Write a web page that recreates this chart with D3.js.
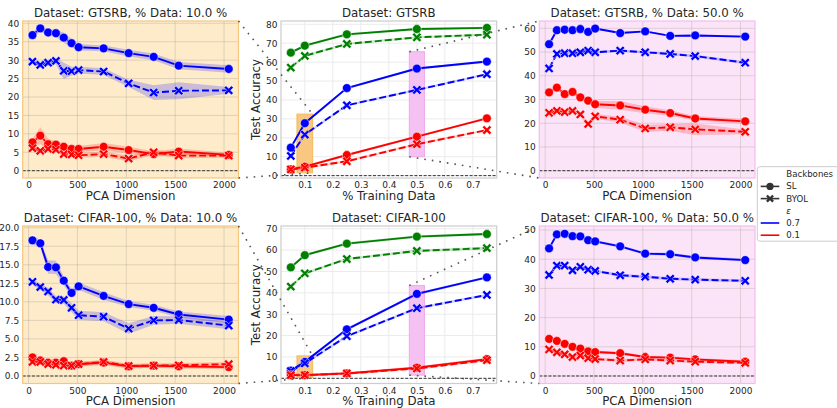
<!DOCTYPE html>
<html>
<head>
<meta charset="utf-8">
<script src="https://cdn.jsdelivr.net/npm/d3@7"></script>
<style>
body { margin: 0; background: #fff; }
svg { display: block; font-family: "DejaVu Sans", sans-serif; }
</style>
</head>
<body>
<svg id="chart" width="837" height="408"></svg>
<script>
// x values
var pcaDims = [40, 120, 200, 280, 360, 440, 512, 768, 1024, 1280, 1536, 2048];
var trainFrac = [0.05, 0.1, 0.25, 0.5, 0.75];

// GTSRB, 10 % data
var g10SL07 = [36.8, 38.6, 37.5, 37.3, 36.1, 34.6, 33.5, 33.2, 31.9, 30.9, 28.5, 27.6];
var g10BY07 = [29.6, 28.7, 29.3, 29.8, 27.1, 27.0, 27.3, 26.9, 23.7, 21.2, 21.7, 21.8];
var g10SL01 = [7.7, 9.5, 7.2, 7.1, 6.5, 5.9, 5.9, 6.5, 5.6, 4.5, 5.2, 4.3];
var g10BY01 = [6.1, 5.4, 5.9, 5.7, 4.5, 4.4, 4.2, 4.5, 3.3, 5.0, 4.1, 4.1];
var g10SL07ci = [0.8, 0.8, 0.9, 1.0, 1.4, 1.2, 0.9, 0.8, 0.9, 0.9, 1.0, 1.0];
var g10BY07ci = [0.8, 0.8, 0.8, 0.9, 2.2, 1.2, 0.9, 0.9, 1.0, 2.0, 2.3, 0.9];
var g10SL01ci = [1.0, 2.3, 1.5, 1.0, 0.9, 0.8, 0.8, 1.0, 0.9, 0.8, 0.8, 0.6];
var g10BY01ci = [0.6, 0.6, 0.6, 0.7, 0.7, 0.7, 0.7, 0.7, 0.8, 0.7, 0.7, 0.6];

// GTSRB, vs % training data
var gtSLfull = [65.0, 68.7, 74.7, 77.5, 78.1];
var gtBYfull = [57.1, 63.3, 69.6, 73.1, 74.5];
var gtSL07 = [14.8, 27.7, 46.3, 56.6, 60.3];
var gtBY07 = [10.4, 21.7, 37.2, 45.3, 53.6];
var gtSL01 = [3.3, 4.8, 10.9, 20.6, 30.3];
var gtBY01 = [3.3, 4.2, 7.6, 16.6, 24.1];
var gtCi = [0.8, 0.7, 0.6, 0.6, 0.6];

// GTSRB, 50 % data
var g50SL07 = [53.3, 59.2, 59.4, 59.2, 59.7, 58.5, 59.9, 58.0, 58.7, 56.8, 57.0, 56.5];
var g50BY07 = [43.1, 49.2, 49.5, 49.5, 49.9, 50.6, 49.9, 50.6, 49.9, 49.2, 48.3, 45.5];
var g50SL01 = [33.0, 35.0, 32.3, 33.2, 30.9, 29.5, 28.0, 27.5, 25.7, 24.3, 22.0, 20.8];
var g50BY01 = [24.4, 25.2, 24.7, 25.2, 23.7, 19.7, 22.9, 21.5, 17.8, 18.3, 17.4, 16.4];
var g50SL07ci = [0.5, 0.5, 0.4, 0.4, 0.4, 0.5, 0.4, 0.4, 0.4, 0.4, 0.4, 0.5];
var g50BY07ci = [0.6, 0.5, 0.5, 0.5, 0.5, 0.6, 0.5, 0.5, 0.5, 0.5, 0.6, 0.6];
var g50SL01ci = [0.8, 0.8, 0.8, 0.8, 1.0, 1.2, 1.5, 1.8, 1.5, 1.2, 1.0, 1.0];
var g50BY01ci = [0.6, 0.6, 0.6, 0.6, 0.8, 1.0, 1.0, 1.2, 1.5, 1.5, 2.5, 1.0];

// CIFAR-100, 10 % data
var c10SL07 = [18.3, 17.9, 14.7, 14.65, 12.85, 11.2, 12.1, 10.8, 9.7, 9.2, 8.3, 7.6];
var c10BY07 = [12.7, 12.0, 11.4, 10.3, 10.25, 9.2, 8.2, 8.0, 6.4, 7.5, 7.55, 6.8];
var c10SL01 = [2.5, 2.1, 1.8, 1.8, 2.0, 1.4, 1.6, 1.8, 1.3, 1.4, 1.3, 1.2];
var c10BY01 = [1.9, 1.9, 1.6, 1.5, 1.4, 1.4, 1.6, 1.9, 1.35, 1.4, 1.45, 1.6];
var c10SL07ci = [0.5, 0.5, 0.9, 0.9, 0.6, 0.5, 0.5, 0.5, 0.4, 0.4, 0.4, 0.5];
var c10BY07ci = [0.4, 0.4, 0.5, 0.5, 0.5, 0.6, 0.6, 0.6, 0.7, 0.6, 0.5, 0.5];
var c10SL01ci = [0.3, 0.3, 0.3, 0.3, 0.3, 0.3, 0.3, 0.3, 0.3, 0.3, 0.3, 0.3];
var c10BY01ci = [0.3, 0.3, 0.3, 0.3, 0.3, 0.3, 0.3, 0.3, 0.3, 0.3, 0.3, 0.3];

// CIFAR-100, vs % training data
var ciSLfull = [51.9, 57.6, 63.0, 66.3, 67.5];
var ciBYfull = [42.9, 49.1, 55.8, 59.6, 60.9];
var ciSL07 = [3.6, 7.7, 22.9, 39.5, 47.2];
var ciBY07 = [3.4, 7.0, 19.7, 32.8, 39.0];
var ciSL01 = [1.5, 1.5, 2.3, 5.0, 9.0];
var ciBY01 = [1.5, 1.5, 2.3, 4.6, 8.5];
var ciCi = [0.6, 0.6, 0.6, 0.6, 0.6];

// CIFAR-100, 50 % data
var c50SL07 = [43.7, 48.5, 48.7, 47.9, 47.8, 46.5, 46.1, 44.4, 41.9, 41.7, 40.6, 39.7];
var c50BY07 = [34.6, 37.8, 37.8, 36.2, 37.4, 36.4, 36.0, 34.5, 34.0, 33.3, 33.0, 32.6];
var c50SL01 = [12.7, 12.0, 11.0, 10.0, 9.4, 8.4, 8.2, 7.8, 6.5, 6.3, 5.7, 4.9];
var c50BY01 = [9.1, 8.1, 7.4, 6.5, 7.0, 6.1, 5.8, 5.3, 5.7, 5.3, 4.9, 4.5];
var c50ci = [0.6, 0.5, 0.5, 0.5, 0.5, 0.5, 0.5, 0.5, 0.5, 0.5, 0.5, 0.5];

// tick labels
var pcaTicks = [0, 500, 1000, 1500, 2000];
var fracTicks = [0.1, 0.2, 0.3, 0.4, 0.5, 0.6, 0.7];

var blue = "#0000ff", red = "#ff0000", green = "#008000";
var orangeBg = "#fdebca", orangeEdge = "#f6c67e";
var pinkBg = "#fce4f8", pinkEdge = "#f2bdee";
var textCol = "#262626";

var cols = [[22.7, 238.5], [281, 496.7], [539.3, 755]];
var rows = [[21, 178], [226, 383.5]];

var svg = d3.select("#chart");

var panels = [
  { row: 0, col: 0, title: "Dataset: GTSRB, % Data: 10.0 %", xlab: "PCA Dimension", kind: "pca",
    ydom: [-1.98, 40.62], yticks: d3.range(0, 41, 5), yfmt: d3.format("d"), bg: orangeBg, edge: orangeEdge,
    series: [[g10SL07, g10SL07ci, blue, 0], [g10BY07, g10BY07ci, blue, 1], [g10SL01, g10SL01ci, red, 0], [g10BY01, g10BY01ci, red, 1]] },
  { row: 0, col: 1, title: "Dataset: GTSRB", xlab: "% Training Data", kind: "frac", ylab: "Test Accuracy",
    ydom: [-1.25, 81.74], yticks: d3.range(0, 81, 10), yfmt: d3.format("d"), bg: "#fff", edge: "#cccccc",
    boxes: [[0.072, 0.128, 1.5, 32.5, "o"], [0.473, 0.527, 10, 65.5, "p"]],
    series: [[gtSLfull, gtCi, green, 0], [gtBYfull, gtCi, green, 1], [gtSL07, gtCi, blue, 0], [gtBY07, gtCi, blue, 1], [gtSL01, gtCi, red, 0], [gtBY01, gtCi, red, 1]] },
  { row: 0, col: 2, title: "Dataset: GTSRB, % Data: 50.0 %", xlab: "PCA Dimension", kind: "pca",
    ydom: [-3.08, 63.08], yticks: d3.range(0, 61, 10), yfmt: d3.format("d"), bg: pinkBg, edge: pinkEdge,
    series: [[g50SL07, g50SL07ci, blue, 0], [g50BY07, g50BY07ci, blue, 1], [g50SL01, g50SL01ci, red, 0], [g50BY01, g50BY01ci, red, 1]] },
  { row: 1, col: 0, title: "Dataset: CIFAR-100, % Data: 10.0 %", xlab: "PCA Dimension", kind: "pca",
    ydom: [-1.01, 20.23], yticks: d3.range(0, 20.1, 2.5), yfmt: d3.format(".1f"), bg: orangeBg, edge: orangeEdge,
    series: [[c10SL07, c10SL07ci, blue, 0], [c10BY07, c10BY07ci, blue, 1], [c10SL01, c10SL01ci, red, 0], [c10BY01, c10BY01ci, red, 1]] },
  { row: 1, col: 1, title: "Dataset: CIFAR-100", xlab: "% Training Data", kind: "frac", ylab: "Test Accuracy",
    ydom: [-2.42, 71.25], yticks: d3.range(0, 71, 10), yfmt: d3.format("d"), bg: "#fff", edge: "#cccccc",
    boxes: [[0.072, 0.128, 0.3, 10.5, "o"], [0.473, 0.527, 1.5, 43.4, "p"]],
    series: [[ciSLfull, ciCi, green, 0], [ciBYfull, ciCi, green, 1], [ciSL07, ciCi, blue, 0], [ciBY07, ciCi, blue, 1], [ciSL01, ciCi, red, 0], [ciBY01, ciCi, red, 1]] },
  { row: 1, col: 2, title: "Dataset: CIFAR-100, % Data: 50.0 %", xlab: "PCA Dimension", kind: "pca",
    ydom: [-2.57, 51.37], yticks: d3.range(0, 51, 10), yfmt: d3.format("d"), bg: pinkBg, edge: pinkEdge,
    series: [[c50SL07, c50ci, blue, 0], [c50BY07, c50ci, blue, 1], [c50SL01, c50ci, red, 0], [c50BY01, c50ci, red, 1]] }
];

// filled "X" marker, like matplotlib's
function xMarker(h, w) {
  var pts = [[w, h], [w, w], [h, w], [h, -w], [w, -w], [w, -h], [-w, -h], [-w, -w], [-h, -w], [-h, w], [-w, w], [-w, h]];
  var c = Math.SQRT1_2;
  return "M" + pts.map(function(p) { return [(p[0] - p[1]) * c, (p[0] + p[1]) * c].join(","); }).join("L") + "Z";
}
var xPath = xMarker(5.2, 1.35);

panels.forEach(function(p) {
  var L = cols[p.col][0], R = cols[p.col][1], T = rows[p.row][0], B = rows[p.row][1];
  var xs = p.kind == "pca" ? pcaDims : trainFrac;
  var x = d3.scaleLinear().domain(p.kind == "pca" ? [-60, 2148] : [0.015, 0.785]).range([L, R]);
  var y = d3.scaleLinear().domain(p.ydom).range([B, T]);
  p.x = x; p.y = y;
  var xticks = p.kind == "pca" ? pcaTicks : fracTicks;
  var g = svg.append("g");

  g.append("rect").attr("x", L).attr("y", T).attr("width", R - L).attr("height", B - T).attr("fill", p.bg);

  // grid
  g.selectAll(".vg").data(xticks).join("line")
    .attr("x1", function(d) { return x(d); }).attr("x2", function(d) { return x(d); })
    .attr("y1", T).attr("y2", B)
    .attr("stroke", p.kind == "pca" ? "rgba(160,150,140,0.3)" : "#ebebeb").attr("stroke-width", 1);
  g.selectAll(".hg").data(p.yticks).join("line")
    .attr("y1", function(d) { return y(d); }).attr("y2", function(d) { return y(d); })
    .attr("x1", L).attr("x2", R)
    .attr("stroke", p.kind == "pca" ? "rgba(160,150,140,0.3)" : "#ebebeb").attr("stroke-width", 1);

  // highlight boxes
  (p.boxes || []).forEach(function(b) {
    g.append("rect")
      .attr("x", x(b[0])).attr("y", y(b[3]))
      .attr("width", x(b[1]) - x(b[0])).attr("height", y(b[2]) - y(b[3]))
      .attr("fill", b[4] == "o" ? "#f9c880" : "#f5c0f2")
      .attr("stroke", b[4] == "o" ? "#f4b75a" : "#eeaaea").attr("stroke-width", 1);
  });

  // axes
  var ya = g.append("g").attr("transform", "translate(" + L + ",0)")
    .call(d3.axisLeft(y).tickValues(p.yticks).tickSize(0).tickPadding(3.5).tickFormat(p.yfmt));
  var xa = g.append("g").attr("transform", "translate(0," + B + ")")
    .call(d3.axisBottom(x).tickValues(xticks).tickSize(0).tickPadding(3.7).tickFormat(p.kind == "pca" ? d3.format("d") : d3.format(".1f")));
  [ya, xa].forEach(function(a) {
    a.select(".domain").remove();
    a.selectAll("text").attr("font-size", 9).attr("fill", textCol).attr("font-family", "DejaVu Sans");
  });

  // zero line
  g.append("line").attr("x1", L).attr("x2", R).attr("y1", y(0)).attr("y2", y(0))
    .attr("stroke", "#333").attr("stroke-width", 1).attr("stroke-dasharray", "3,1.6");

  // confidence bands
  p.series.forEach(function(s) {
    var rows_ = xs.map(function(v, i) { return { x: v, y: s[0][i], c: s[1][i] }; });
    g.append("path").datum(rows_)
      .attr("d", d3.area().x(function(d) { return x(d.x); })
        .y0(function(d) { return y(d.y - d.c); }).y1(function(d) { return y(d.y + d.c); }))
      .attr("fill", s[2]).attr("fill-opacity", 0.2);
  });

  // lines + markers
  p.series.forEach(function(s) {
    var rows_ = xs.map(function(v, i) { return { x: v, y: s[0][i] }; });
    g.append("path").datum(rows_)
      .attr("d", d3.line().x(function(d) { return x(d.x); }).y(function(d) { return y(d.y); }))
      .attr("fill", "none").attr("stroke", s[2]).attr("stroke-width", 1.9)
      .attr("stroke-dasharray", s[3] ? "7,3" : null);
    if (s[3]) {
      g.selectAll(null).data(rows_).join("path")
        .attr("d", xPath)
        .attr("transform", function(d) { return "translate(" + x(d.x) + "," + y(d.y) + ")"; })
        .attr("fill", s[2]).attr("stroke", "#fff").attr("stroke-width", 0.5);
    } else {
      g.selectAll(null).data(rows_).join("circle")
        .attr("cx", function(d) { return x(d.x); }).attr("cy", function(d) { return y(d.y); })
        .attr("r", 4.4).attr("fill", s[2]).attr("stroke", "#fff").attr("stroke-width", 0.5);
    }
  });

  // frame
  g.append("rect").attr("x", L).attr("y", T).attr("width", R - L).attr("height", B - T)
    .attr("fill", "none").attr("stroke", p.edge).attr("stroke-width", 1.2);

  // labels
  g.append("text").attr("x", (L + R) / 2).attr("y", T - 4).attr("text-anchor", "middle")
    .attr("font-size", 11.8).attr("fill", textCol).text(p.title);
  g.append("text").attr("x", (L + R) / 2).attr("y", B + 21.5).attr("text-anchor", "middle")
    .attr("font-size", 11.8).attr("fill", textCol).text(p.xlab);
  if (p.ylab) {
    g.append("text").attr("transform", "translate(" + (L - 21.5) + "," + ((T + B) / 2) + ") rotate(-90)")
      .attr("text-anchor", "middle").attr("font-size", 11.8).attr("fill", textCol).text(p.ylab);
  }
});

// dotted connectors between zoom boxes and side panels
function connect(x1, y1, x2, y2) {
  svg.append("line").attr("x1", x1).attr("y1", y1).attr("x2", x2).attr("y2", y2)
    .attr("stroke", "#555").attr("stroke-width", 1.6).attr("stroke-dasharray", "1.6,6")
    .attr("stroke-linecap", "butt");
}
[panels[1], panels[4]].forEach(function(m) {
  var T = rows[m.row][0], B = rows[m.row][1];
  var ob = m.boxes[0], pb = m.boxes[1];
  connect(cols[0][1], T, m.x(ob[1]), m.y(ob[3]));
  connect(cols[0][1], B, m.x(ob[1]), m.y(ob[2]));
  connect(m.x(pb[0]), m.y(pb[3]), cols[2][0], T);
  connect(m.x(pb[0]), m.y(pb[2]), cols[2][0], B);
});

// legend
var lg = svg.append("g").attr("transform", "translate(757.3,166.7)");
lg.append("rect").attr("width", 100).attr("height", 74.5).attr("rx", 2.5)
  .attr("fill", "#fff").attr("stroke", "#cccccc").attr("stroke-width", 1);
var legendItems = [
  { label: "Backbones", head: true },
  { label: "SL", mark: "o", color: "#333" },
  { label: "BYOL", mark: "x", color: "#333" },
  { label: "ε", head: true, italic: true },
  { label: "0.7", color: blue },
  { label: "0.1", color: red }
];
legendItems.forEach(function(it, i) {
  var yy = 7.5 + i * 12.2;
  var t = lg.append("text").attr("x", 29).attr("y", yy).attr("dy", "0.35em")
    .attr("font-size", 8.6).attr("fill", textCol).text(it.label);
  if (it.italic) t.attr("font-style", "italic");
  if (it.head) return;
  lg.append("line").attr("x1", 3.4).attr("x2", 22).attr("y1", yy).attr("y2", yy)
    .attr("stroke", it.color).attr("stroke-width", 1.6);
  if (it.mark == "o") lg.append("circle").attr("cx", 12.7).attr("cy", yy).attr("r", 3.6).attr("fill", it.color);
  if (it.mark == "x") lg.append("path").attr("d", xMarker(4.4, 1.2)).attr("transform", "translate(12.7," + yy + ")").attr("fill", it.color);
});
</script>
</body>
</html>
